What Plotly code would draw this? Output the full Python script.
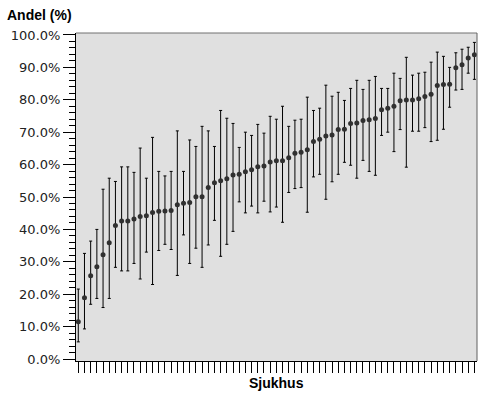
import plotly.graph_objects as go

# Share (%) per hospital, sorted ascending, with lower/upper confidence limits
andel = [11.5, 18.9, 25.7, 28.5, 32.2, 35.9, 41.2, 42.6, 42.6, 43.2,
         44.0, 44.2, 45.2, 45.6, 45.7, 45.8, 47.6, 48.1, 48.3, 50.1,
         50.1, 52.9, 54.4, 55.0, 55.6, 56.8, 57.0, 57.8, 58.4, 59.3,
         59.6, 60.8, 61.2, 61.2, 62.1, 63.5, 63.8, 64.6, 67.1, 67.8,
         68.8, 69.1, 70.8, 70.9, 72.7, 72.8, 73.6, 73.8, 74.2, 76.9,
         77.4, 78.0, 79.7, 79.9, 79.9, 80.3, 81.0, 81.7, 84.4, 84.7,
         84.8, 89.9, 90.8, 92.9, 93.9]
ovre = [21.6, 32.6, 36.4, 40.0, 52.4, 55.8, 54.8, 59.3, 59.3, 57.6,
        65.1, 55.8, 68.4, 57.9, 56.5, 57.9, 70.4, 57.9, 67.6, 65.6,
        71.8, 70.4, 65.6, 76.7, 74.3, 72.7, 65.3, 70.0, 69.0, 72.4,
        69.7, 74.9, 74.0, 78.0, 71.8, 73.7, 74.0, 80.8, 76.7, 77.4,
        84.5, 81.1, 82.3, 79.8, 83.5, 86.0, 83.2, 86.0, 87.2, 83.5,
        83.5, 88.2, 86.6, 93.1, 87.6, 88.2, 88.5, 91.6, 94.7, 93.4,
        90.0, 94.5, 95.6, 96.2, 97.7]
nedre = [5.3, 9.3, 16.9, 18.7, 15.9, 18.7, 28.3, 27.2, 27.2, 29.5,
         24.7, 33.0, 23.0, 33.5, 35.4, 33.8, 25.8, 38.3, 29.5, 34.2,
         28.3, 35.2, 42.8, 31.7, 35.4, 39.4, 48.5, 45.1, 47.2, 45.1,
         48.7, 45.4, 46.9, 42.2, 51.4, 52.6, 52.9, 45.3, 56.2, 57.0,
         49.3, 54.7, 57.0, 60.7, 59.8, 55.8, 61.3, 57.9, 56.7, 69.0,
         70.0, 64.0, 70.8, 59.2, 70.3, 70.3, 71.4, 67.1, 67.5, 70.9,
         77.7, 83.0, 83.2, 88.2, 86.3]
sjukhus = list(range(len(andel)))
y_ticks = list(range(0, 101, 10))

fig = go.Figure()
fig.add_trace(go.Scatter(
    x=sjukhus, y=andel, mode="markers",
    marker=dict(color="#303030", size=5, symbol="circle"),
    error_y=dict(type="data", symmetric=False,
                 array=[u - a for u, a in zip(ovre, andel)],
                 arrayminus=[a - l for a, l in zip(andel, nedre)],
                 color="black", thickness=1, width=1.5),
    showlegend=False, hoverinfo="skip",
))

fig.update_layout(
    width=483, height=398,
    margin=dict(l=76, r=6, t=33, b=37),
    paper_bgcolor="white", plot_bgcolor="#e0e0e0",
    font=dict(family="DejaVu Sans", size=13, color="#222"),
    xaxis=dict(range=[-0.37, 64.42], tickvals=sjukhus, showticklabels=False,
               ticks="outside", ticklen=11, tickwidth=1, tickcolor="black",
               showgrid=False, zeroline=False, showline=True,
               linecolor="black", linewidth=1),
    yaxis=dict(range=[-0.6, 100.6], tickvals=y_ticks,
               ticktext=[f"{v:.1f}%" for v in y_ticks],
               ticks="outside", ticklen=12, tickwidth=1, tickcolor="black",
               minor=dict(dtick=2, ticks="outside", ticklen=6, tickcolor="black", tickwidth=1),
               showgrid=False, zeroline=False, showline=True,
               linecolor="black", linewidth=1),
    shapes=[
        dict(type="line", xref="paper", yref="paper", x0=0, x1=1, y0=1, y1=1,
             line=dict(color="#707070", width=1)),
        dict(type="line", xref="paper", yref="paper", x0=1, x1=1, y0=0, y1=1,
             line=dict(color="#606060", width=1)),
    ],
    annotations=[
        dict(text="<b>Andel (%)</b>", xref="paper", yref="paper",
             x=-0.177, y=1.055, xanchor="left", yanchor="middle", showarrow=False,
             font=dict(family="Arial, Liberation Sans", size=14, color="black")),
        dict(text="<b>Sjukhus</b>", xref="paper", yref="paper",
             x=0.5, y=-0.067, xanchor="center", yanchor="middle", showarrow=False,
             font=dict(family="Arial, Liberation Sans", size=14, color="black")),
    ],
)

fig.write_html("out.html")
